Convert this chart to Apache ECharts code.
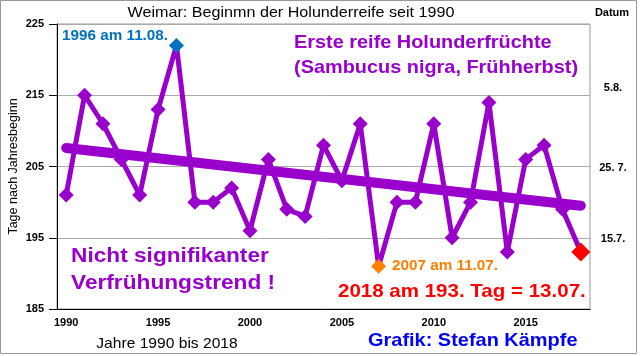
<!DOCTYPE html>
<html>
<head>
<meta charset="utf-8">
<script src="https://cdn.jsdelivr.net/npm/echarts@6/dist/echarts.min.js"></script>
<style>
html,body{margin:0;padding:0;background:#fff;}
#c{width:640px;height:356px;}
</style>
</head>
<body>
<div id="c"></div>
<script>
// ---- data ----
const years = ['1990','1991','1992','1993','1994','1995','1996','1997','1998','1999','2000','2001','2002','2003','2004','2005','2006','2007','2008','2009','2010','2011','2012','2013','2014','2015','2016','2017','2018'];
const days = [201,215,211,206,201,213,222,200,200,202,196,206,199,198,208,203,211,191,200,200,211,195,200,214,193,206,208,199,193];
const trendStart = 207.6;
const trendEnd = 199.5;
const leftTicks = [185,195,205,215,225];
const dateTickValues = [216,204.8,194.8];
const dateTickLabels = ['5.8.','25. 7.','15.7.'];

const FONT = '"Liberation Sans", Arial, sans-serif';
const PURPLE = '#9900CC';
const special = {'1996':'#0070C0','2007':'#FF7F00','2018':'#FF0000'};

const lineData = days.map((v,i)=>{
  const y = years[i];
  if (special[y]) {
    return {value:v, itemStyle:{color:special[y]}, symbolSize: y==='2018'?19:15};
  }
  return v;
});
const trendData = [[years[0], trendStart],[years[years.length-1], trendEnd]];

function txt(x,y,text,font,fill,align,sx){
  return {type:'text',x:x,y:y,scaleX:sx||1,style:{x:0,y:0,text:text,font:font,fill:fill,align:align||'left',verticalAlign:'middle'},silent:true};
}

const chart = echarts.init(document.getElementById('c'), null, {renderer:'canvas'});
chart.setOption({
  animation:false,
  backgroundColor:'#fff',
  textStyle:{fontFamily:FONT},
  grid:{left:57,right:50,top:24,bottom:47,containLabel:false,outerBoundsMode:'none',show:true,borderColor:'#999',borderWidth:1,backgroundColor:'transparent'},
  xAxis:{
    type:'category', data:years, boundaryGap:true,
    axisLine:{lineStyle:{color:'#000',width:1}},
    axisTick:{interval:0,length:5,lineStyle:{color:'#000'}},
    axisLabel:{interval:4,color:'#000',fontWeight:'bold',fontSize:11,fontFamily:FONT,margin:8},
    splitLine:{show:false}
  },
  yAxis:[{
    type:'value', min:leftTicks[0], max:leftTicks[leftTicks.length-1], interval:10,
    name:'Tage nach Jahresbeginn', nameLocation:'middle', nameGap:37, nameRotate:90, nameMoveOverlap:false,
    nameTextStyle:{color:'#000',fontSize:12.5,fontFamily:FONT},
    axisLine:{show:true,lineStyle:{color:'#000'}},
    axisTick:{show:true,length:8,lineStyle:{color:'#000'}},
    axisLabel:{color:'#000',fontWeight:'bold',fontSize:11,fontFamily:FONT,margin:13},
    splitLine:{show:true,lineStyle:{color:'#aaa',width:1}}
  },{
    type:'value', min:leftTicks[0], max:leftTicks[leftTicks.length-1], position:'right',
    axisLine:{show:false}, axisTick:{show:false}, splitLine:{show:false},
    axisLabel:{
      customValues:dateTickValues, color:'#000',fontWeight:'bold',fontSize:11,fontFamily:FONT,
      margin:23, align:'center',
      formatter:(v)=>{const i=dateTickValues.indexOf(v);return i>=0?dateTickLabels[i]:'';}
    }
  }],
  series:[{
    type:'line', data:trendData, symbol:'none', z:3,
    lineStyle:{color:PURPLE,width:10,cap:'round'}, silent:true
  },{
    type:'line', data:lineData, symbol:'diamond', symbolSize:15, showAllSymbol:true, z:4,
    lineStyle:{color:PURPLE,width:5}, itemStyle:{color:PURPLE}
  }],
  graphic:[
    {type:'rect',shape:{x:0.5,y:0.5,width:636,height:353},style:{fill:'none',stroke:'#999',lineWidth:1},silent:true},
    txt(291,13,'Weimar: Beginmn der Holunderreife seit 1990','15px '+FONT,'#000','center',1.075),
    txt(612,13,'Datum','bold 11px '+FONT,'#000','center',1),
    txt(62,36,'1996 am 11.08.','bold 14px '+FONT,'#0070C0','left',1.09),
    txt(294,43,'Erste reife Holunderfrüchte','bold 18.6px '+FONT,PURPLE,'left',1.07),
    txt(294,68,'(Sambucus nigra, Frühherbst)','bold 18.6px '+FONT,PURPLE,'left',1.07),
    txt(71,256,'Nicht signifikanter','bold 21px '+FONT,PURPLE,'left',1.08),
    txt(71,283,'Verfrühungstrend !','bold 21px '+FONT,PURPLE,'left',1.08),
    txt(392,266,'2007 am 11.07.','bold 14px '+FONT,'#FF7F00','left',1.09),
    txt(338,292,'2018 am 193. Tag = 13.07.','bold 19px '+FONT,'#FF0000','left',1.08),
    txt(368,341,'Grafik: Stefan Kämpfe','bold 19px '+FONT,'#0000FF','left',1.05),
    txt(167,344,'Jahre 1990 bis 2018','15px '+FONT,'#000','center',1.04)
  ]
});
</script>
</body>
</html>
